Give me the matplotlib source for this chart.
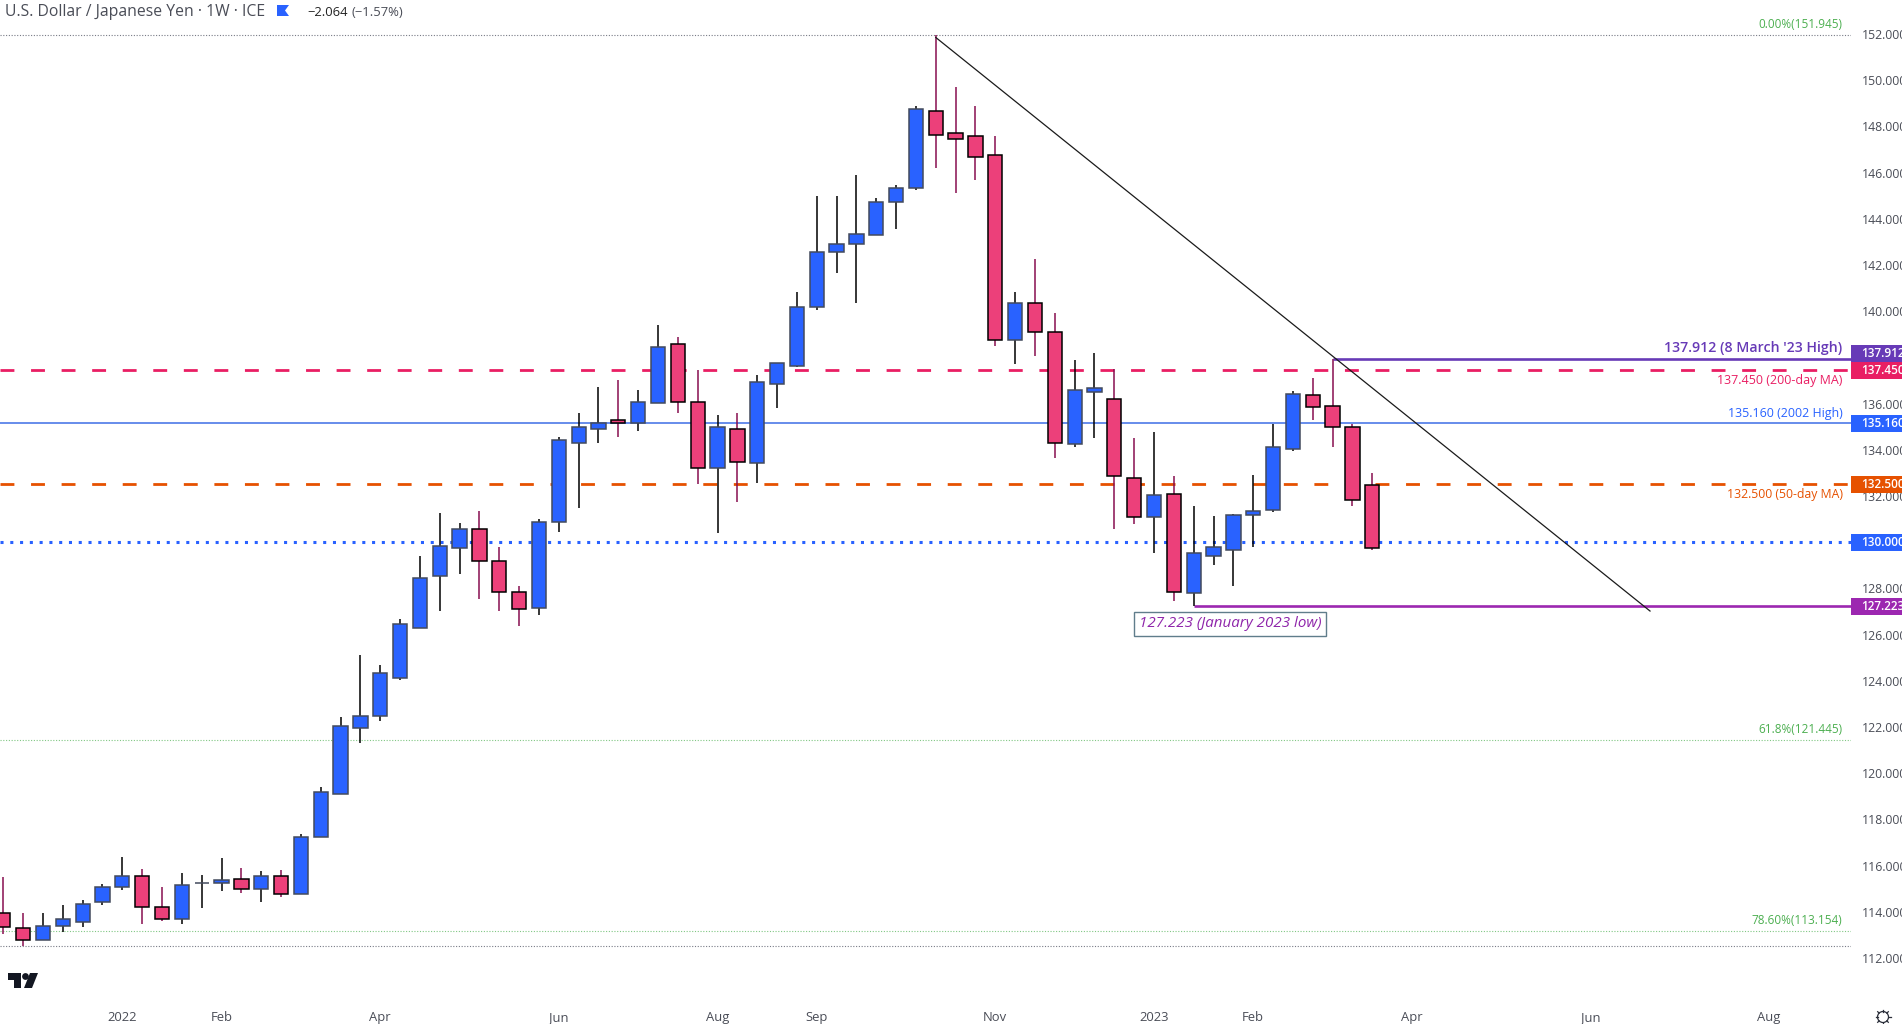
"""
plot.py - USD/JPY weekly candles with levels, fibs and trendline
"""

import numpy as np
import matplotlib
matplotlib.use("Agg")
import matplotlib.pyplot as plt
from matplotlib.patches import Polygon, Rectangle, Circle

plt.rcParams["font.family"] = ["Open Sans", "DejaVu Sans"]

W, H = 1902, 1024

# weekly candles, oldest first
highs = [115.50, 113.93, 113.93, 114.29, 114.51, 115.20, 116.37, 115.85, 115.07, 115.68,
         115.59, 116.33, 115.89, 115.76, 115.81, 117.35, 119.39, 122.43, 125.11, 124.68,
         126.68, 129.40, 131.26, 130.83, 131.35, 129.79, 128.10, 131.00, 134.55, 135.60,
         136.72, 137.02, 136.59, 139.40, 138.88, 137.44, 135.51, 135.60, 137.24, 137.74,
         140.83, 144.99, 144.99, 145.89, 144.90, 145.46, 148.87, 151.94, 149.70, 148.88,
         147.58, 140.83, 142.26, 139.92, 137.89, 138.19, 137.48, 134.51, 134.77, 132.87,
         131.57, 131.14, 131.22, 132.91, 135.12, 136.53, 137.11, 137.95, 135.12, 132.98]
opens = [113.93, 113.28, 112.76, 113.37, 113.57, 114.41, 115.06, 115.53, 114.19, 113.67,
         115.23, 115.23, 115.40, 114.97, 115.53, 114.75, 117.25, 119.11, 121.94, 122.49,
         124.13, 126.27, 128.55, 129.76, 130.56, 129.17, 127.83, 127.14, 130.86, 134.28,
         134.89, 135.28, 135.18, 136.01, 138.57, 136.05, 133.20, 134.89, 133.42, 136.83,
         137.64, 140.17, 142.55, 142.89, 143.28, 144.71, 145.32, 148.65, 147.70, 147.57,
         146.75, 138.74, 140.34, 139.08, 134.24, 136.52, 136.19, 132.77, 131.08, 132.07,
         127.79, 129.39, 129.65, 131.16, 131.38, 134.02, 136.36, 135.88, 134.97, 132.46]
closes = [113.33, 112.76, 113.37, 113.67, 114.32, 115.06, 115.53, 114.19, 113.67, 115.14,
          115.23, 115.36, 114.97, 115.53, 114.75, 117.25, 119.17, 122.03, 122.46, 124.32,
          126.44, 128.44, 129.82, 130.56, 129.17, 127.83, 127.09, 130.86, 134.41, 134.97,
          135.15, 135.18, 136.05, 138.44, 136.05, 133.20, 134.97, 133.46, 136.92, 137.74,
          140.17, 142.55, 142.89, 143.33, 144.71, 145.32, 148.74, 147.61, 147.44, 146.66,
          138.74, 140.34, 139.08, 134.28, 136.58, 136.66, 132.85, 131.08, 132.03, 127.83,
          129.52, 129.78, 131.16, 131.34, 134.11, 136.40, 135.84, 134.97, 131.81, 129.74]
lows = [113.05, 112.52, 112.76, 113.14, 113.35, 114.31, 114.96, 113.48, 113.61, 113.48,
        114.18, 114.91, 114.83, 114.44, 114.65, 114.75, 117.25, 119.11, 121.32, 122.27,
        124.05, 126.27, 127.00, 128.62, 127.56, 127.04, 126.39, 126.86, 130.46, 131.49,
        134.30, 134.55, 134.83, 136.01, 135.61, 132.53, 130.41, 131.75, 132.58, 135.82,
        137.60, 140.07, 141.67, 140.37, 143.28, 143.57, 145.26, 146.20, 145.13, 145.69,
        138.51, 137.70, 138.07, 133.66, 134.14, 134.53, 130.57, 130.80, 129.55, 127.47,
        127.25, 129.01, 128.12, 129.81, 131.32, 133.96, 135.31, 134.14, 131.58, 129.68]

# axis ticks
price_ticks = list(range(112, 154, 2))
date_positions = [6, 11, 19, 28, 36, 41, 50, 58, 63, 71, 80, 89]
date_labels = ["2022", "Feb", "Apr", "Jun", "Aug", "Sep", "Nov", "2023", "Feb", "Apr", "Jun", "Aug"]

# fibonacci retracement levels
fib_prices = [151.945, 121.445, 113.154, 112.52]
fib_texts = ["0.00%(151.945)", "61.8%(121.445)", "78.60%(113.154)", None]
fib_colors = ["#787b86", "#81c784", "#81c784", "#787b86"]

# horizontal levels: value, note, colour, tag shift
level_prices = [137.912, 137.450, 135.160, 132.500, 130.000, 127.223]
level_notes = ["137.912 (8 March '23 High)", "137.450 (200-day MA)", "135.160 (2002 High)",
               "132.500 (50-day MA)", None, None]
level_colors = ["#673ab7", "#e91e63", "#2962ff", "#e65100", "#2962ff", "#9c27b0"]
level_shift = [0.26, 0, 0, 0, 0, 0]

# trendline ends
trend_x = [47, 83]
trend_y = [151.85, 127.02]

BLUE, PINK = "#2962ff", "#ec407a"
TEXT = "#4a4d57"

opens, closes, highs, lows = map(np.array, (opens, closes, highs, lows))
x = np.arange(len(opens))
up = closes >= opens

fig = plt.figure(figsize=(W / 100, H / 100), dpi=100, facecolor="white")
ax = fig.add_axes([0, 1 - 995 / H, 1851 / W, 995 / H])
ax.set_xlim((0 - 3.3) / 19.84, (1851 - 3.3) / 19.84)
ax.set_ylim(112 - 37 / 23.1, 112 + 958 / 23.1)
for s in ax.spines.values():
    s.set_visible(False)


def px(xp, yp):
    # figure pixels (top-left origin) to figure fraction
    return xp / W, 1 - yp / H


# ── Level lines ───────────────────────────────────────────────
for price, color in zip(fib_prices, fib_colors):
    ax.axhline(price, color=color, lw=0.8, ls=(0, (1, 1.5)), zorder=1)

ax.axhline(level_prices[1], color=level_colors[1], lw=2, ls=(0, (5, 6)), zorder=1)
ax.axhline(level_prices[2], color="#3d6ee6", lw=1.1, zorder=1)
ax.axhline(level_prices[3], color=level_colors[3], lw=2, ls=(0, (5, 6)), zorder=1)
ax.axhline(level_prices[4], color=level_colors[4], lw=2.2, ls=(0, (1, 2.2)), zorder=1)
ax.hlines(level_prices[0], 67, ax.get_xlim()[1], color=level_colors[0], lw=1.9, zorder=1)
ax.hlines(level_prices[5], 60, ax.get_xlim()[1], color=level_colors[5], lw=1.9, zorder=1)

# ── Candles ───────────────────────────────────────────────────
ax.vlines(x[up], lows[up], highs[up], color="black", lw=1.1, zorder=2)
ax.vlines(x[~up], lows[~up], highs[~up], color="#880e4f", lw=1.1, zorder=2)
ax.bar(x[up], (closes - opens)[up], bottom=opens[up], width=0.72, color=BLUE,
       edgecolor="#434a5c", linewidth=1.1, zorder=3)
ax.bar(x[~up], (closes - opens)[~up], bottom=opens[~up], width=0.72, color=PINK,
       edgecolor="black", linewidth=1.1, zorder=3)

ax.plot(trend_x, trend_y, color="#1a1a1a", lw=0.9, zorder=4)

# ── Axes ──────────────────────────────────────────────────────
ax.yaxis.tick_right()
ax.set_yticks(price_ticks)
ax.set_yticklabels([f"{p}.000" for p in price_ticks], fontsize=8.8, color=TEXT)
ax.set_xticks(date_positions)
ax.set_xticklabels(date_labels, fontsize=9.4, color=TEXT)
ax.tick_params(axis="both", length=0)
ax.tick_params(axis="y", pad=8)
ax.tick_params(axis="x", pad=11.5)

# ── Right hand tags and notes ─────────────────────────────────
right = ax.get_yaxis_transform()
for price, color, shift in zip(level_prices, level_colors, level_shift):
    ax.add_patch(Rectangle((1, price + shift - 0.368), 51 / 1851, 0.736, transform=right,
                           facecolor=color, edgecolor="none", clip_on=False, zorder=6))
    ax.annotate(f"{price:.3f}", xy=(1, price + shift), xycoords=right, xytext=(7.5, 0),
                textcoords="offset points", color="white", fontsize=8.5, fontweight="semibold",
                va="center", ha="left", zorder=7, annotation_clip=False)

note_offsets = [8.2, -7.2, 7.2, -7.2, 0, 0]
note_sizes = [10.15, 9.0, 8.9, 8.85, 9, 9]
note_weights = ["semibold", "normal", "normal", "normal", "normal", "normal"]
for price, note, color, off, size, weight in zip(level_prices, level_notes, level_colors,
                                                 note_offsets, note_sizes, note_weights):
    if note:
        ax.annotate(note, xy=(1, price), xycoords=right, xytext=(-6, off),
                    textcoords="offset points", color=color, fontsize=size, fontweight=weight,
                    va="center", ha="right", zorder=5)

for price, label in zip(fib_prices, fib_texts):
    if label:
        ax.annotate(label, xy=(1, price), xycoords=right, xytext=(-6, 7.6),
                    textcoords="offset points", color="#4caf50", fontsize=8.5,
                    va="center", ha="right", zorder=5)

ax.text(61.83, 126.46, "127.223 (January 2023 low)", color="#8e24aa",
        fontsize=10.9, style="italic", ha="center", va="center", zorder=5,
        bbox=dict(boxstyle="square,pad=0.3", facecolor="white", edgecolor="#607d8b", linewidth=1))

# ── Header ────────────────────────────────────────────────────
fig.text(*px(5, 12), "U.S. Dollar / Japanese Yen · 1W · ICE", fontsize=11.35, color=TEXT, va="center")
fig.text(*px(307, 12), "−2.064", fontsize=9.4, color="#222222", va="center")
fig.text(*px(351, 12), "(−1.57%)", fontsize=9.4, color=TEXT, va="center")
fig.add_artist(Polygon([px(277, 5), px(289, 5), px(285, 10.5), px(289, 16), px(277, 16)],
                       closed=True, facecolor=BLUE, edgecolor="none", transform=fig.transFigure))

# ── TradingView mark ──────────────────────────────────────────
dark = "#131722"
fig.add_artist(Polygon([px(8, 973), px(21, 973), px(21, 988), px(14, 988), px(14, 980), px(8, 980)],
                       closed=True, facecolor=dark, edgecolor="none", transform=fig.transFigure))
fig.add_artist(Polygon([px(30, 973), px(38, 973), px(32, 988), px(24, 988)],
                       closed=True, facecolor=dark, edgecolor="none", transform=fig.transFigure))
fig.add_artist(Circle((25.5, H - 976.5), 3.4, facecolor=dark, edgecolor="none", transform=None))

# ── Settings icon ─────────────────────────────────────────────
cx, cy = 1883, H - 1017
fig.add_artist(Circle((cx, cy), 5.5, facecolor="none", edgecolor="#2a2e39", linewidth=0.9, transform=None))
for a in np.deg2rad(np.arange(0, 360, 45)):
    fig.add_artist(plt.Line2D([cx + 5.5 * np.cos(a), cx + 7.5 * np.cos(a)],
                              [cy + 5.5 * np.sin(a), cy + 7.5 * np.sin(a)],
                              color="#2a2e39", lw=0.9, transform=None))

fig.savefig("out.png", dpi=100)
